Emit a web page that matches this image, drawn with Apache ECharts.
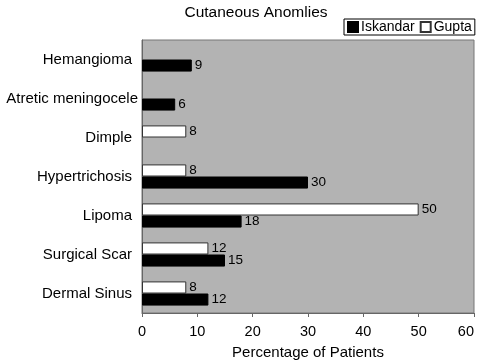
<!DOCTYPE html>
<html><head><meta charset="utf-8">
<script src="https://cdn.jsdelivr.net/npm/echarts@6/dist/echarts.min.js"></script>
<style>html,body{margin:0;padding:0;background:#fff}#c{width:477px;height:362px}</style>
</head><body><div id="c"></div>
<script>
var categories = ['Dermal Sinus','Surgical Scar','Lipoma','Hypertrichosis','Dimple','Atretic meningocele','Hemangioma'];
var iskandar = [12, 15, 18, 30, null, 6, 9];
var gupta = [8, 12, 50, 8, 8, null, null];
var xTicks = [0, 10, 20, 30, 40, 50, 60];

var F = 'Liberation Sans, Arial, sans-serif';
var catData = categories.map(function (c) {
  return c === 'Atretic meningocele'
    ? { value: c, textStyle: { fontFamily: F, fontSize: 15, color: '#000', padding: [0, -6, 0, 0] } }
    : c;
});
var chart = echarts.init(document.getElementById('c'));
chart.setOption({
  animation: false,
  backgroundColor: '#fff',
  title: { text: 'Cutaneous Anomlies', left: 251, top: 0, textAlign: 'center',
    textStyle: { fontFamily: F, fontWeight: 'normal', fontSize: 15.5, color: '#000' } },
  legend: {
    left: 344, top: 19, orient: 'horizontal',
    data: [{ name: 'Iskandar', icon: 'rect' }, { name: 'Gupta', icon: 'rect' }],
    itemWidth: 10, itemHeight: 10, itemGap: 5,
    borderColor: '#000', borderWidth: 1, padding: [1, 3, 1, 3],
    backgroundColor: '#fff',
    textStyle: { fontFamily: F, fontSize: 14, color: '#000', padding: [0, 0, 0, -2] }
  },
  grid: { left: 142, right: 3, top: 40, bottom: 49, show: true, outerBoundsMode: 'none',
    containLabel: false,
    backgroundColor: '#b3b3b3', borderColor: '#777', borderWidth: 1 },
  xAxis: {
    type: 'value', min: 0, max: 60, interval: 10,
    name: 'Percentage of Patients', nameLocation: 'middle', nameGap: 32,
    nameTextStyle: { fontFamily: F, fontSize: 15, color: '#000' },
    axisLine: { show: true, lineStyle: { color: '#666' } },
    axisTick: { show: true, length: 4, lineStyle: { color: '#666' } },
    axisLabel: { fontFamily: F, fontSize: 14.5, color: '#000', margin: 11, alignMaxLabel: 'right',
      formatter: function (v) { return xTicks.indexOf(v) >= 0 ? String(v) : ''; } },
    splitLine: { show: false }
  },
  yAxis: {
    type: 'category', data: catData,
    axisLine: { show: true, lineStyle: { color: '#666' } },
    axisTick: { show: false },
    axisLabel: { fontFamily: F, fontSize: 15, color: '#000', margin: 10 }
  },
  series: [
    { name: 'Gupta', type: 'bar', data: gupta, barGap: '0%', barCategoryGap: '38%',
      itemStyle: { color: '#fff', borderColor: '#333', borderWidth: 1 },
      label: { show: true, position: 'right', distance: 3, fontFamily: F, fontSize: 13.5, color: '#000' } },
    { name: 'Iskandar', type: 'bar', data: iskandar, barGap: '0%', barCategoryGap: '38%',
      itemStyle: { color: '#000', borderColor: '#000', borderWidth: 1 },
      label: { show: true, position: 'right', distance: 3, fontFamily: F, fontSize: 13.5, color: '#000' } }
  ]
});
</script></body></html>
